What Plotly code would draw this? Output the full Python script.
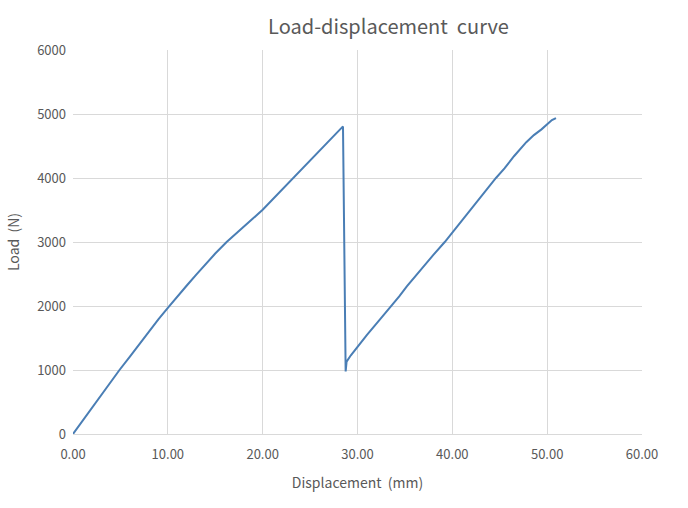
import plotly.graph_objects as go

# Displacement (mm) and load (N)
disp = [0.0, 1.0, 2.0, 3.0, 4.0, 4.9, 6.0, 7.0, 8.0, 9.0, 10.0, 11.0, 12.0, 13.0, 14.0,
        15.0, 16.2, 17.0, 18.0, 19.0, 20.0, 21.0, 22.0, 23.2, 24.0, 25.0, 26.0, 27.0, 28.0,
        28.47,
        28.75, 28.85, 29.3, 30.0, 31.0, 32.35, 33.6, 34.4, 35.2, 36.0, 37.0, 38.0, 39.2,
        40.0, 41.0, 42.0, 43.0, 44.0, 44.6, 45.5, 46.5, 47.8, 48.6, 49.4, 50.0, 50.5, 50.93]
load = [0, 205, 405, 600, 810, 1000, 1210, 1405, 1600, 1790, 1970, 2150, 2320, 2490, 2660,
        2820, 3000, 3110, 3240, 3370, 3505, 3660, 3810, 4000, 4120, 4275, 4430, 4580, 4730,
        4806,
        978, 1130, 1230, 1369, 1550, 1786, 2000, 2150, 2306, 2450, 2625, 2800, 3000,
        3150, 3330, 3520, 3710, 3900, 4000, 4150, 4340, 4560, 4670, 4760, 4845, 4905, 4937]

x_ticks = [0, 10, 20, 30, 40, 50, 60]
x_labels = ["0.00", "10.00", "20.00", "30.00", "40.00", "50.00", "60.00"]
y_ticks = [0, 1000, 2000, 3000, 4000, 5000, 6000]
y_labels = ["0", "1000", "2000", "3000", "4000", "5000", "6000"]

font_family = "Noto Sans CJK KR, Noto Sans, sans-serif"
text_color = "#595959"
grid_color = "#d9d9d9"

fig = go.Figure()
fig.add_trace(go.Scatter(
    x=disp, y=load, mode="lines",
    line=dict(color="#4a7eb5", width=2),
    showlegend=False, hoverinfo="x+y",
))

fig.update_layout(
    width=688, height=508,
    margin=dict(l=73, r=46, t=50, b=74),
    paper_bgcolor="white", plot_bgcolor="white",
    font=dict(family=font_family, color=text_color, size=12),
    title=dict(text="Load-displacement  curve", x=381.5 / 688, xref="paper", xanchor="center",
               y=1 - 27 / 508, yanchor="middle",
               font=dict(size=20, color=text_color, family=font_family)),
)
fig.update_xaxes(
    range=[0, 60], tickvals=x_ticks, ticktext=x_labels,
    showgrid=True, gridcolor=grid_color, gridwidth=1,
    zeroline=False, showline=True, linecolor=grid_color, linewidth=1,
    ticks="", ticklabelstandoff=8, tickfont=dict(size=13, color=text_color),
    title=dict(text="Displacement  (mm)", font=dict(size=14, color=text_color), standoff=16),
)
fig.update_yaxes(
    range=[0, 6000], tickvals=y_ticks, ticktext=y_labels,
    showgrid=True, gridcolor=grid_color, gridwidth=1,
    zeroline=False, showline=False,
    ticks="", ticklabelstandoff=6, tickfont=dict(size=13, color=text_color),
    title=dict(text="Load  (N)", font=dict(size=14, color=text_color), standoff=14),
)

fig.write_html("out.html")
